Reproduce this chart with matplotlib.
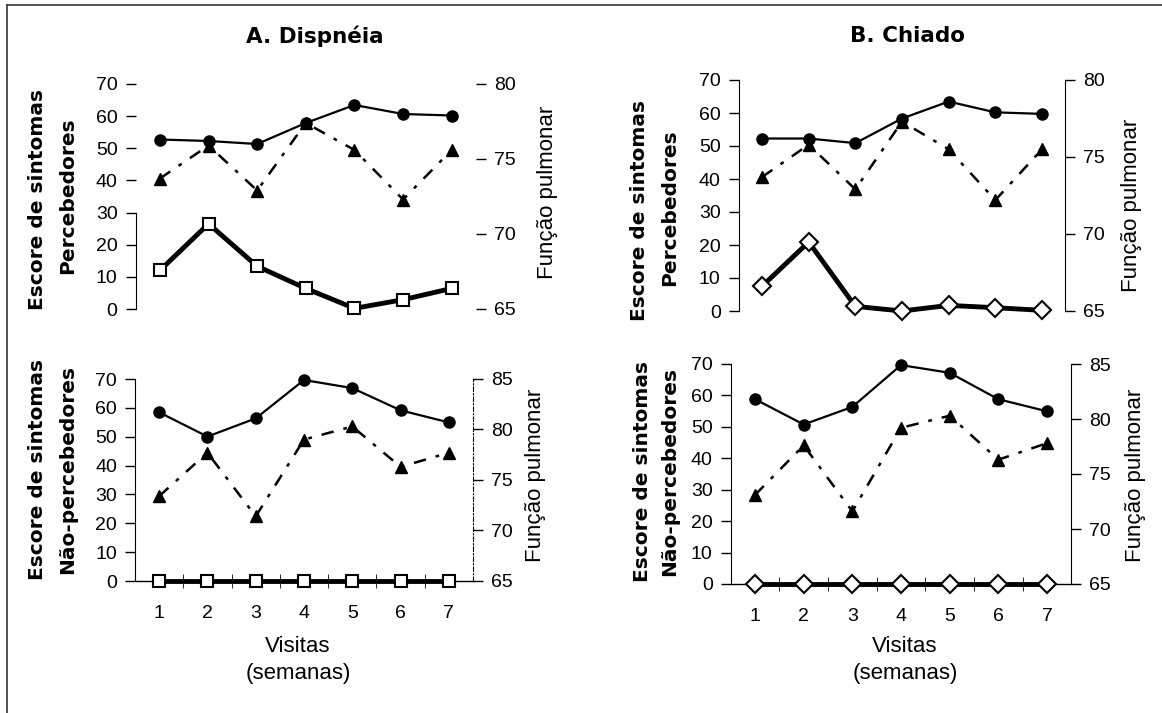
"""Escore de sintomas e função pulmonar por visita (Dispnéia / Chiado).

Recreates a 2x2 panel figure: symptom score (open markers, left axis)
and two pulmonary-function series (filled markers, right axis) per visit.
"""

import matplotlib

matplotlib.use("Agg")
import matplotlib.pyplot as plt
from matplotlib.lines import Line2D

plt.rcParams["font.family"] = ["Liberation Sans", "DejaVu Sans"]

W, H = 1162, 713

VISITS = [1, 2, 3, 4, 5, 6, 7]

# A. Dispnéia - Percebedores
disp_perc_score = [12.0, 26.5, 13.3, 6.4, 0.2, 2.9, 6.4]
disp_perc_circ = [76.3, 76.2, 76.0, 77.4, 78.6, 78.0, 77.9]
disp_perc_tri = [73.7, 75.9, 72.9, 77.4, 75.6, 72.3, 75.6]

# B. Chiado - Percebedores
chia_perc_score = [7.5, 20.9, 1.4, 0.0, 1.7, 1.0, 0.2]
chia_perc_circ = [76.2, 76.2, 75.9, 77.5, 78.6, 77.9, 77.8]
chia_perc_tri = [73.7, 75.8, 72.9, 77.3, 75.5, 72.2, 75.5]

# A. Dispnéia - Não-percebedores
disp_nper_score = [0, 0, 0, 0, 0, 0, 0]
disp_nper_circ = [81.7, 79.3, 81.1, 84.9, 84.1, 81.9, 80.7]
disp_nper_tri = [73.4, 77.7, 71.4, 79.0, 80.3, 76.3, 77.7]

# B. Chiado - Não-percebedores
chia_nper_score = [0, 0, 0, 0, 0, 0, 0]
chia_nper_circ = [81.8, 79.5, 81.1, 84.9, 84.2, 81.8, 80.7]
chia_nper_tri = [73.1, 77.6, 71.6, 79.2, 80.3, 76.3, 77.8]

LEFT_TICKS = [0, 10, 20, 30, 40, 50, 60, 70]
TOP_RIGHT_TICKS = [65, 70, 75, 80]
BOT_RIGHT_TICKS = [65, 70, 75, 80, 85]

FS = 14
BOLD = ["DejaVu Sans"]


def px_box(x0, x1, y0, y1):
    """Pixel box (left, right, top, bottom) -> figure fraction rect."""
    return [x0 / W, 1 - y1 / H, (x1 - x0) / W, (y1 - y0) / H]


def fig_text(fig, x, y, s, **kw):
    fig.text(x / W, 1 - y / H, s, ha="center", va="center", **kw)


def panel(fig, rect, score, circ, tri, marker, rlim, rticks, bottom_axis):
    ax = fig.add_axes(rect)
    ax.set_xlim(0.5, 7.5)
    ax.set_ylim(0, 70)
    ax.set_yticks(LEFT_TICKS)
    ax.tick_params(axis="y", direction="out", length=7, width=1,
                   labelsize=FS, pad=6)
    ax.spines["top"].set_visible(False)
    ax.spines["right"].set_visible(False)

    ms = 9 if marker == "D" else 8
    ax.plot(VISITS, score, color="black", lw=3.5, marker=marker, ms=ms,
            mfc="white", mec="black", mew=1.5, clip_on=False, zorder=3)

    if bottom_axis:
        ax.spines["bottom"].set_linewidth(1)
        ax.set_xticks(VISITS)
        ax.set_xticks([v + 0.5 for v in VISITS[:-1]], minor=True)
        ax.tick_params(axis="x", which="major", length=0, labelsize=FS, pad=17)
        ax.tick_params(axis="x", which="minor", direction="inout", length=10)
    else:
        ax.spines["bottom"].set_visible(False)
        ax.set_xticks([])

    ax2 = ax.twinx()
    ax2.set_ylim(*rlim)
    ax2.set_yticks(rticks)
    ax2.tick_params(axis="y", direction="out", length=7, width=1,
                    labelsize=FS, pad=6)
    for side in ("top", "left", "bottom"):
        ax2.spines[side].set_visible(False)
    ax2.plot(VISITS, circ, color="black", lw=1.6, marker="o", ms=8,
             clip_on=False, zorder=3)
    ax2.plot(VISITS, tri, color="black", lw=1.8, ls=(0, (5, 4, 1.5, 4)),
             marker="^", ms=9, clip_on=False, zorder=3)
    return ax, ax2


def main():
    fig = plt.figure(figsize=(W / 100, H / 100), dpi=100)

    # top-left: A. Dispnéia, Percebedores
    ax, ax2 = panel(fig, px_box(135.6, 476, 84, 309), disp_perc_score,
                    disp_perc_circ, disp_perc_tri, "s", (65, 80),
                    TOP_RIGHT_TICKS, False)
    ax.spines["left"].set_bounds(0, 30)
    ax2.spines["right"].set_visible(False)

    # top-right: B. Chiado, Percebedores
    panel(fig, px_box(738.7, 1065.3, 80, 311), chia_perc_score,
          chia_perc_circ, chia_perc_tri, "D", (65, 80), TOP_RIGHT_TICKS, False)

    # bottom-left: A. Dispnéia, Não-percebedores
    ax, ax2 = panel(fig, px_box(135, 473, 379, 581), disp_nper_score,
                    disp_nper_circ, disp_nper_tri, "s", (65, 85),
                    BOT_RIGHT_TICKS, True)
    ax2.spines["right"].set_linestyle((0, (4, 2, 1, 2)))

    # bottom-right: B. Chiado, Não-percebedores
    panel(fig, px_box(730.7, 1071.3, 364, 584), chia_nper_score,
          chia_nper_circ, chia_nper_tri, "D", (65, 85), BOT_RIGHT_TICKS, True)

    # titles
    ttl = dict(fontsize=15.5, fontweight="bold", family=BOLD)
    fig_text(fig, 315, 36, "A. Dispnéia", **ttl)
    fig_text(fig, 908, 36, "B. Chiado", **ttl)

    # left axis labels (two bold lines each)
    ylab = dict(fontsize=14.5, fontweight="bold", rotation=90, family=BOLD)
    fig_text(fig, 38, 200, "Escore de sintomas", **ylab)
    fig_text(fig, 68, 196, "Percebedores", **ylab)
    fig_text(fig, 640, 210, "Escore de sintomas", **ylab)
    fig_text(fig, 670, 208, "Percebedores", **ylab)
    fig_text(fig, 38, 470, "Escore de sintomas", **ylab)
    fig_text(fig, 68, 470, "Não-percebedores", **ylab)
    fig_text(fig, 643, 472, "Escore de sintomas", **ylab)
    fig_text(fig, 670, 472, "Não-percebedores", **ylab)

    # right axis labels
    for x, y in [(548, 192), (1131, 205), (536, 475), (1135, 475)]:
        fig_text(fig, x, y, "Função pulmonar", fontsize=16, rotation=90)

    # x labels
    for x in (298, 905):
        fig_text(fig, x, 647, "Visitas", fontsize=16)
        fig_text(fig, x, 673, "(semanas)", fontsize=16)

    # scanned frame: top and left edges
    fig.add_artist(Line2D([7 / W, 1.0], [1 - 5 / H, 1 - 5 / H],
                          transform=fig.transFigure, color="#333333", lw=1.2))
    fig.add_artist(Line2D([7 / W, 7 / W], [0, 1 - 5 / H],
                          transform=fig.transFigure, color="#333333", lw=1.2))

    fig.savefig("out.png", dpi=100)
    plt.close(fig)


if __name__ == "__main__":
    main()
